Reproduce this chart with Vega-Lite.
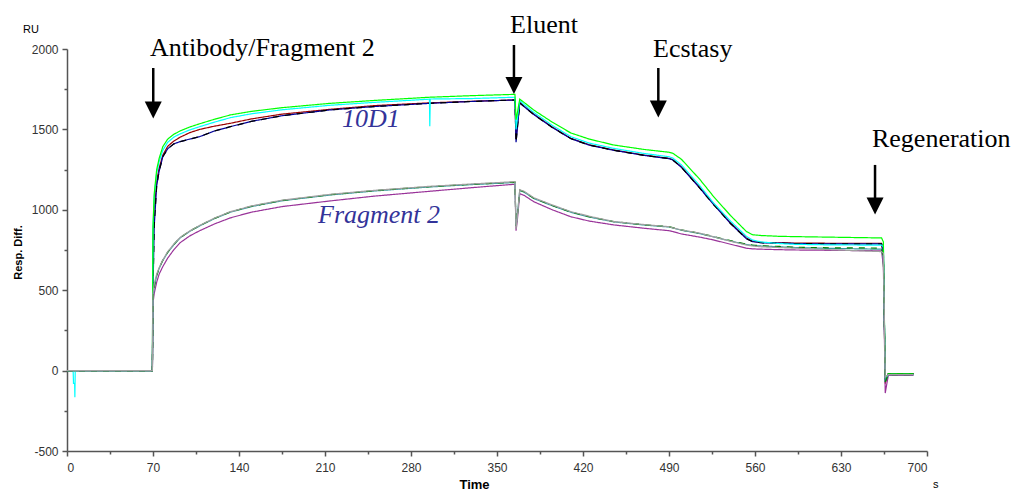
{
  "$schema": "https://vega.github.io/schema/vega-lite/v6.json",
  "width": 860,
  "height": 402,
  "autosize": {"type": "none"},
  "padding": {"left": 67, "top": 49, "right": 85, "bottom": 40},
  "background": "white",
  "config": {
    "view": {"stroke": null},
    "axis": {
      "labelFont": "Liberation Sans",
      "labelFontSize": 12,
      "labelColor": "#333333",
      "domainColor": "#555555",
      "tickColor": "#555555",
      "domainWidth": 1.5,
      "tickWidth": 1.5,
      "grid": false,
      "titleFont": "Liberation Sans",
      "titleColor": "#000000"
    }
  },
  "datasets": {
    "curves": [
      {"s":"r","t":0,"v":0},{"s":"r","t":69.5,"v":0},{"s":"r","t":70,"v":820},{"s":"r","t":71,"v":1000},{"s":"r","t":73,"v":1180},{"s":"r","t":75,"v":1260},{"s":"r","t":78,"v":1340},{"s":"r","t":82,"v":1395},{"s":"r","t":87,"v":1428},{"s":"r","t":92,"v":1451},{"s":"r","t":100,"v":1480},{"s":"r","t":108,"v":1500},{"s":"r","t":120,"v":1520},{"s":"r","t":133,"v":1538},{"s":"r","t":150,"v":1565},{"s":"r","t":175,"v":1595},{"s":"r","t":214,"v":1625},{"s":"r","t":250,"v":1648},{"s":"r","t":295,"v":1665},{"s":"r","t":330,"v":1675},{"s":"r","t":364.6,"v":1683},{"s":"r","t":365.5,"v":1440},{"s":"r","t":366.5,"v":1520},{"s":"r","t":368.5,"v":1668},{"s":"r","t":372,"v":1645},{"s":"r","t":380,"v":1595},{"s":"r","t":395,"v":1515},{"s":"r","t":410,"v":1445},{"s":"r","t":425,"v":1405},{"s":"r","t":445,"v":1372},{"s":"r","t":470,"v":1340},{"s":"r","t":490,"v":1320},{"s":"r","t":493,"v":1312},{"s":"r","t":500,"v":1268},{"s":"r","t":515,"v":1140},{"s":"r","t":526,"v":1040},{"s":"r","t":540,"v":920},{"s":"r","t":553,"v":825},{"s":"r","t":558,"v":805},{"s":"r","t":565,"v":797},{"s":"r","t":580,"v":795},{"s":"r","t":594,"v":793},{"s":"r","t":620,"v":792},{"s":"r","t":663,"v":792},{"s":"r","t":664.5,"v":700},{"s":"r","t":666,"v":-80},{"s":"r","t":668.5,"v":-20},{"s":"r","t":689,"v":-20},
      {"s":"n","t":0,"v":0},{"s":"n","t":69.5,"v":0},{"s":"n","t":70,"v":500},{"s":"n","t":71,"v":900},{"s":"n","t":73,"v":1150},{"s":"n","t":75,"v":1240},{"s":"n","t":78,"v":1330},{"s":"n","t":82,"v":1380},{"s":"n","t":87,"v":1410},{"s":"n","t":92,"v":1424},{"s":"n","t":100,"v":1440},{"s":"n","t":108,"v":1455},{"s":"n","t":120,"v":1490},{"s":"n","t":133,"v":1517},{"s":"n","t":150,"v":1550},{"s":"n","t":175,"v":1585},{"s":"n","t":214,"v":1621},{"s":"n","t":250,"v":1642},{"s":"n","t":295,"v":1662},{"s":"n","t":330,"v":1674},{"s":"n","t":364.6,"v":1683},{"s":"n","t":365.5,"v":1420},{"s":"n","t":366.5,"v":1500},{"s":"n","t":368.5,"v":1665},{"s":"n","t":372,"v":1642},{"s":"n","t":380,"v":1592},{"s":"n","t":395,"v":1512},{"s":"n","t":410,"v":1443},{"s":"n","t":425,"v":1402},{"s":"n","t":445,"v":1370},{"s":"n","t":470,"v":1338},{"s":"n","t":490,"v":1318},{"s":"n","t":493,"v":1310},{"s":"n","t":500,"v":1265},{"s":"n","t":515,"v":1135},{"s":"n","t":526,"v":1035},{"s":"n","t":540,"v":915},{"s":"n","t":553,"v":820},{"s":"n","t":558,"v":802},{"s":"n","t":565,"v":795},{"s":"n","t":580,"v":793},{"s":"n","t":594,"v":790},{"s":"n","t":620,"v":788},{"s":"n","t":663,"v":788},{"s":"n","t":664.5,"v":740},{"s":"n","t":666,"v":-60},{"s":"n","t":668.5,"v":-20},{"s":"n","t":689,"v":-20},
      {"s":"k","t":0,"v":0},{"s":"k","t":69.5,"v":0},{"s":"k","t":70,"v":500},{"s":"k","t":71,"v":900},{"s":"k","t":73,"v":1150},{"s":"k","t":75,"v":1240},{"s":"k","t":78,"v":1330},{"s":"k","t":82,"v":1380},{"s":"k","t":87,"v":1410},{"s":"k","t":92,"v":1424},{"s":"k","t":100,"v":1440},{"s":"k","t":108,"v":1455},{"s":"k","t":120,"v":1490},{"s":"k","t":133,"v":1517},{"s":"k","t":150,"v":1550},{"s":"k","t":175,"v":1585},{"s":"k","t":214,"v":1621},{"s":"k","t":250,"v":1642},{"s":"k","t":295,"v":1662},{"s":"k","t":330,"v":1674},{"s":"k","t":364.6,"v":1683},{"s":"k","t":365.5,"v":1420},{"s":"k","t":366.5,"v":1500},{"s":"k","t":368.5,"v":1665},{"s":"k","t":372,"v":1642},{"s":"k","t":380,"v":1592},{"s":"k","t":395,"v":1512},{"s":"k","t":410,"v":1443},{"s":"k","t":425,"v":1402},{"s":"k","t":445,"v":1370},{"s":"k","t":470,"v":1338},{"s":"k","t":490,"v":1318},{"s":"k","t":493,"v":1310},{"s":"k","t":500,"v":1265},{"s":"k","t":515,"v":1135},{"s":"k","t":526,"v":1035},{"s":"k","t":540,"v":915},{"s":"k","t":553,"v":820},{"s":"k","t":558,"v":802},{"s":"k","t":565,"v":795},{"s":"k","t":580,"v":793},{"s":"k","t":594,"v":790},{"s":"k","t":620,"v":788},{"s":"k","t":663,"v":788},{"s":"k","t":664.5,"v":740},{"s":"k","t":666,"v":-60},{"s":"k","t":668.5,"v":-20},{"s":"k","t":689,"v":-20},
      {"s":"c","t":0,"v":0},{"s":"c","t":5,"v":0},{"s":"c","t":5.3,"v":-80},{"s":"c","t":6.2,"v":-80},{"s":"c","t":6.4,"v":-165},{"s":"c","t":6.7,"v":0},{"s":"c","t":69.5,"v":0},{"s":"c","t":70,"v":880},{"s":"c","t":71,"v":1080},{"s":"c","t":73,"v":1230},{"s":"c","t":75,"v":1300},{"s":"c","t":78,"v":1370},{"s":"c","t":82,"v":1420},{"s":"c","t":87,"v":1452},{"s":"c","t":92,"v":1472},{"s":"c","t":100,"v":1497},{"s":"c","t":108,"v":1517},{"s":"c","t":120,"v":1545},{"s":"c","t":133,"v":1573},{"s":"c","t":150,"v":1597},{"s":"c","t":175,"v":1622},{"s":"c","t":214,"v":1650},{"s":"c","t":250,"v":1668},{"s":"c","t":295,"v":1688},{"s":"c","t":295.3,"v":1520},{"s":"c","t":295.7,"v":1689},{"s":"c","t":330,"v":1692},{"s":"c","t":364.6,"v":1700},{"s":"c","t":365.5,"v":1500},{"s":"c","t":366.5,"v":1560},{"s":"c","t":368.5,"v":1680},{"s":"c","t":372,"v":1655},{"s":"c","t":380,"v":1605},{"s":"c","t":395,"v":1525},{"s":"c","t":410,"v":1455},{"s":"c","t":425,"v":1415},{"s":"c","t":445,"v":1382},{"s":"c","t":470,"v":1350},{"s":"c","t":490,"v":1330},{"s":"c","t":493,"v":1322},{"s":"c","t":500,"v":1280},{"s":"c","t":515,"v":1150},{"s":"c","t":526,"v":1045},{"s":"c","t":540,"v":930},{"s":"c","t":553,"v":835},{"s":"c","t":558,"v":812},{"s":"c","t":565,"v":800},{"s":"c","t":580,"v":790},{"s":"c","t":594,"v":785},{"s":"c","t":620,"v":782},{"s":"c","t":663,"v":780},{"s":"c","t":664.5,"v":770},{"s":"c","t":666,"v":-60},{"s":"c","t":668.5,"v":-25},{"s":"c","t":689,"v":-25},
      {"s":"g","t":0,"v":0},{"s":"g","t":69.5,"v":0},{"s":"g","t":70,"v":900},{"s":"g","t":71,"v":1100},{"s":"g","t":73,"v":1250},{"s":"g","t":75,"v":1320},{"s":"g","t":78,"v":1393},{"s":"g","t":82,"v":1440},{"s":"g","t":87,"v":1470},{"s":"g","t":92,"v":1490},{"s":"g","t":100,"v":1515},{"s":"g","t":108,"v":1535},{"s":"g","t":120,"v":1563},{"s":"g","t":133,"v":1590},{"s":"g","t":150,"v":1612},{"s":"g","t":175,"v":1635},{"s":"g","t":214,"v":1662},{"s":"g","t":250,"v":1680},{"s":"g","t":295,"v":1700},{"s":"g","t":330,"v":1710},{"s":"g","t":364.6,"v":1718},{"s":"g","t":365.5,"v":1560},{"s":"g","t":366.5,"v":1600},{"s":"g","t":368.5,"v":1688},{"s":"g","t":372,"v":1668},{"s":"g","t":380,"v":1620},{"s":"g","t":395,"v":1545},{"s":"g","t":410,"v":1478},{"s":"g","t":425,"v":1440},{"s":"g","t":445,"v":1403},{"s":"g","t":470,"v":1375},{"s":"g","t":490,"v":1358},{"s":"g","t":493,"v":1352},{"s":"g","t":500,"v":1315},{"s":"g","t":515,"v":1190},{"s":"g","t":526,"v":1085},{"s":"g","t":540,"v":965},{"s":"g","t":553,"v":865},{"s":"g","t":558,"v":845},{"s":"g","t":565,"v":840},{"s":"g","t":580,"v":835},{"s":"g","t":594,"v":833},{"s":"g","t":620,"v":830},{"s":"g","t":663,"v":825},{"s":"g","t":664.5,"v":800},{"s":"g","t":666,"v":-50},{"s":"g","t":668.5,"v":-20},{"s":"g","t":689,"v":-20},
      {"s":"p","t":0,"v":0},{"s":"p","t":69.5,"v":0},{"s":"p","t":70,"v":420},{"s":"p","t":71,"v":480},{"s":"p","t":73,"v":550},{"s":"p","t":75,"v":600},{"s":"p","t":78,"v":647},{"s":"p","t":82,"v":700},{"s":"p","t":87,"v":752},{"s":"p","t":92,"v":795},{"s":"p","t":100,"v":838},{"s":"p","t":108,"v":870},{"s":"p","t":120,"v":912},{"s":"p","t":133,"v":950},{"s":"p","t":150,"v":985},{"s":"p","t":175,"v":1020},{"s":"p","t":214,"v":1055},{"s":"p","t":250,"v":1085},{"s":"p","t":295,"v":1115},{"s":"p","t":330,"v":1138},{"s":"p","t":364.6,"v":1159},{"s":"p","t":365.5,"v":870},{"s":"p","t":366.5,"v":930},{"s":"p","t":368.5,"v":1100},{"s":"p","t":372,"v":1090},{"s":"p","t":380,"v":1050},{"s":"p","t":395,"v":1000},{"s":"p","t":410,"v":957},{"s":"p","t":425,"v":930},{"s":"p","t":445,"v":906},{"s":"p","t":470,"v":885},{"s":"p","t":490,"v":870},{"s":"p","t":493,"v":865},{"s":"p","t":500,"v":850},{"s":"p","t":515,"v":830},{"s":"p","t":526,"v":813},{"s":"p","t":540,"v":786},{"s":"p","t":553,"v":761},{"s":"p","t":558,"v":757},{"s":"p","t":565,"v":755},{"s":"p","t":580,"v":752},{"s":"p","t":594,"v":750},{"s":"p","t":620,"v":748},{"s":"p","t":663,"v":745},{"s":"p","t":664.5,"v":650},{"s":"p","t":666,"v":-140},{"s":"p","t":668.5,"v":-30},{"s":"p","t":689,"v":-30},
      {"s":"t","t":0,"v":0},{"s":"t","t":69.5,"v":0},{"s":"t","t":70,"v":450},{"s":"t","t":71,"v":520},{"s":"t","t":73,"v":590},{"s":"t","t":75,"v":635},{"s":"t","t":78,"v":685},{"s":"t","t":82,"v":735},{"s":"t","t":87,"v":783},{"s":"t","t":92,"v":825},{"s":"t","t":100,"v":866},{"s":"t","t":108,"v":900},{"s":"t","t":120,"v":945},{"s":"t","t":133,"v":985},{"s":"t","t":150,"v":1020},{"s":"t","t":175,"v":1056},{"s":"t","t":214,"v":1092},{"s":"t","t":250,"v":1117},{"s":"t","t":295,"v":1142},{"s":"t","t":330,"v":1157},{"s":"t","t":364.6,"v":1170},{"s":"t","t":365.5,"v":900},{"s":"t","t":366.5,"v":960},{"s":"t","t":368.5,"v":1120},{"s":"t","t":372,"v":1110},{"s":"t","t":380,"v":1070},{"s":"t","t":395,"v":1025},{"s":"t","t":410,"v":985},{"s":"t","t":425,"v":955},{"s":"t","t":445,"v":925},{"s":"t","t":470,"v":905},{"s":"t","t":490,"v":893},{"s":"t","t":493,"v":887},{"s":"t","t":500,"v":873},{"s":"t","t":515,"v":852},{"s":"t","t":526,"v":832},{"s":"t","t":540,"v":806},{"s":"t","t":553,"v":784},{"s":"t","t":558,"v":779},{"s":"t","t":565,"v":775},{"s":"t","t":580,"v":770},{"s":"t","t":594,"v":765},{"s":"t","t":620,"v":760},{"s":"t","t":663,"v":755},{"s":"t","t":664.5,"v":700},{"s":"t","t":666,"v":-70},{"s":"t","t":668.5,"v":-25},{"s":"t","t":689,"v":-25},
      {"s":"dg","t":0,"v":0},{"s":"dg","t":69.5,"v":0},{"s":"dg","t":70,"v":450},{"s":"dg","t":71,"v":520},{"s":"dg","t":73,"v":592},{"s":"dg","t":75,"v":637},{"s":"dg","t":78,"v":687},{"s":"dg","t":82,"v":737},{"s":"dg","t":87,"v":785},{"s":"dg","t":92,"v":827},{"s":"dg","t":100,"v":868},{"s":"dg","t":108,"v":902},{"s":"dg","t":120,"v":947},{"s":"dg","t":133,"v":987},{"s":"dg","t":150,"v":1022},{"s":"dg","t":175,"v":1058},{"s":"dg","t":214,"v":1094},{"s":"dg","t":250,"v":1119},{"s":"dg","t":295,"v":1144},{"s":"dg","t":330,"v":1159},{"s":"dg","t":364.6,"v":1172},{"s":"dg","t":365.5,"v":900},{"s":"dg","t":366.5,"v":962},{"s":"dg","t":368.5,"v":1122},{"s":"dg","t":372,"v":1112},{"s":"dg","t":380,"v":1072},{"s":"dg","t":395,"v":1027},{"s":"dg","t":410,"v":987},{"s":"dg","t":425,"v":957},{"s":"dg","t":445,"v":927},{"s":"dg","t":470,"v":907},{"s":"dg","t":490,"v":895},{"s":"dg","t":493,"v":889},{"s":"dg","t":500,"v":875},{"s":"dg","t":515,"v":854},{"s":"dg","t":526,"v":834},{"s":"dg","t":540,"v":808},{"s":"dg","t":553,"v":786},{"s":"dg","t":558,"v":781},{"s":"dg","t":565,"v":777},{"s":"dg","t":580,"v":772},{"s":"dg","t":594,"v":767},{"s":"dg","t":620,"v":764},{"s":"dg","t":663,"v":762},{"s":"dg","t":664.5,"v":700},{"s":"dg","t":666,"v":-70},{"s":"dg","t":668.5,"v":-25},{"s":"dg","t":689,"v":-25},
      {"s":"y","t":0,"v":0},{"s":"y","t":69.5,"v":0},{"s":"y","t":70,"v":480},{"s":"y","t":71,"v":540},{"s":"y","t":73,"v":600},{"s":"y","t":75,"v":640},{"s":"y","t":78,"v":688},{"s":"y","t":82,"v":740},{"s":"y","t":87,"v":787},{"s":"y","t":92,"v":828},{"s":"y","t":100,"v":869},{"s":"y","t":108,"v":903},{"s":"y","t":120,"v":948},{"s":"y","t":133,"v":988},{"s":"y","t":150,"v":1024},{"s":"y","t":175,"v":1060},{"s":"y","t":214,"v":1096},{"s":"y","t":250,"v":1121},{"s":"y","t":295,"v":1146},{"s":"y","t":330,"v":1161},{"s":"y","t":364.6,"v":1175},{"s":"y","t":365.5,"v":880},{"s":"y","t":366.5,"v":950},{"s":"y","t":368.5,"v":1125},{"s":"y","t":372,"v":1115},{"s":"y","t":380,"v":1075},{"s":"y","t":395,"v":1030},{"s":"y","t":410,"v":989},{"s":"y","t":425,"v":960},{"s":"y","t":445,"v":927},{"s":"y","t":470,"v":908},{"s":"y","t":490,"v":895},{"s":"y","t":493,"v":888},{"s":"y","t":500,"v":875},{"s":"y","t":515,"v":855},{"s":"y","t":526,"v":833},{"s":"y","t":540,"v":805},{"s":"y","t":553,"v":781},{"s":"y","t":558,"v":775},{"s":"y","t":565,"v":770},{"s":"y","t":580,"v":765},{"s":"y","t":594,"v":761},{"s":"y","t":620,"v":752},{"s":"y","t":663,"v":740},{"s":"y","t":664.5,"v":730},{"s":"y","t":666,"v":-40},{"s":"y","t":668.5,"v":-25},{"s":"y","t":689,"v":-25}
    ],
    "arrows": [
      {"x": 70.2, "top": 1882, "head": 1621},
      {"x": 363.8, "top": 2025, "head": 1773},
      {"x": 481.3, "top": 1882, "head": 1627},
      {"x": 657.7, "top": 1279, "head": 1024}
    ],
    "labels": [
      {"text": "Antibody/Fragment 2", "x": 67.6, "y": 1956},
      {"text": "Eluent", "x": 360.6, "y": 2099},
      {"text": "Ecstasy", "x": 477, "y": 1950},
      {"text": "Regeneration", "x": 655.2, "y": 1391}
    ],
    "groups": [
      {"text": "10D1", "x": 223.8, "y": 1515},
      {"text": "Fragment 2", "x": 204.3, "y": 918}
    ],
    "units": [
      {"text": "RU", "x": -35.8, "y": 2098},
      {"text": "s", "x": 704.9, "y": -727}
    ]
  },
  "resolve": {"axis": {"x": "independent", "y": "independent"}},
  "layer": [
    {
      "data": {"name": "curves"},
      "mark": {"type": "line", "strokeWidth": 1.2, "clip": false},
      "encoding": {
        "x": {
          "field": "t", "type": "quantitative",
          "scale": {"domain": [0, 700], "nice": false, "zero": false},
          "axis": {
            "orient": "bottom",
            "values": [0, 70, 140, 210, 280, 350, 420, 490, 560, 630, 700],
            "labelExpr": "'' + datum.value",
            "tickSize": 5, "labelPadding": 6,
            "title": "Time", "titleFontSize": 13, "titleFontWeight": "bold",
            "titleX": 407, "titleY": 37, "titleAlign": "center", "titleBaseline": "alphabetic"
          }
        },
        "y": {
          "field": "v", "type": "quantitative",
          "scale": {"domain": [-500, 2000], "nice": false, "zero": false},
          "axis": {
            "orient": "left",
            "values": [-500, 0, 500, 1000, 1500, 2000],
            "labelExpr": "'' + datum.value",
            "tickSize": 5, "labelPadding": 4,
            "title": "Resp. Diff.", "titleFontSize": 11, "titleFontWeight": "bold",
            "titleX": -49, "titleY": 203, "titleAngle": 270, "titleAlign": "center", "titleBaseline": "middle"
          }
        },
        "color": {
          "field": "s", "type": "nominal", "legend": null,
          "scale": {
            "domain": ["r", "n", "k", "c", "g", "p", "t", "dg", "y"],
            "range": ["#990000", "#000099", "#000000", "#00ffff", "#00ff00", "#993399", "#339999", "#008000", "#a0a0a0"]
          }
        },
        "strokeDash": {
          "field": "s", "type": "nominal", "legend": null,
          "scale": {
            "domain": ["r", "n", "k", "c", "g", "p", "t", "dg", "y"],
            "range": [[1, 0], [1, 0], [6, 6], [1, 0], [1, 0], [1, 0], [1, 0], [6, 6], [1, 0]]
          }
        }
      }
    },
    {
      "data": {"name": "arrows"},
      "mark": {"type": "rule", "color": "#000000", "strokeWidth": 2.5, "clip": false},
      "encoding": {
        "x": {
          "field": "x", "type": "quantitative",
          "axis": {
            "orient": "bottom",
            "values": [35, 105, 175, 245, 315, 385, 455, 525, 595, 665],
            "tickSize": 3, "labels": false, "domain": false, "title": null
          }
        },
        "y": {
          "field": "top", "type": "quantitative",
          "axis": {
            "orient": "left",
            "values": [-250, 250, 750, 1250, 1750],
            "tickSize": 3, "labels": false, "domain": false, "title": null
          }
        },
        "y2": {"field": "head"}
      }
    },
    {
      "data": {"name": "arrows"},
      "mark": {"type": "point", "shape": "M-1,-1L1,-1L0,1Z", "size": 289, "filled": true, "color": "#000000", "opacity": 1, "strokeWidth": 0, "clip": false},
      "encoding": {
        "x": {"field": "x", "type": "quantitative", "axis": null},
        "y": {"field": "head", "type": "quantitative", "axis": null}
      }
    },
    {
      "data": {"name": "labels"},
      "mark": {"type": "text", "font": "Liberation Serif", "fontSize": 26, "color": "#000000", "align": "left", "baseline": "alphabetic", "clip": false},
      "encoding": {
        "x": {"field": "x", "type": "quantitative", "axis": null},
        "y": {"field": "y", "type": "quantitative", "axis": null},
        "text": {"field": "text"}
      }
    },
    {
      "data": {"name": "groups"},
      "mark": {"type": "text", "font": "Liberation Serif", "fontSize": 26, "fontStyle": "italic", "color": "#333399", "align": "left", "baseline": "alphabetic", "clip": false},
      "encoding": {
        "x": {"field": "x", "type": "quantitative", "axis": null},
        "y": {"field": "y", "type": "quantitative", "axis": null},
        "text": {"field": "text"}
      }
    },
    {
      "data": {"name": "units"},
      "mark": {"type": "text", "font": "Liberation Sans", "fontSize": 11, "color": "#000000", "align": "left", "baseline": "alphabetic", "clip": false},
      "encoding": {
        "x": {"field": "x", "type": "quantitative", "axis": null},
        "y": {"field": "y", "type": "quantitative", "axis": null},
        "text": {"field": "text"}
      }
    }
  ]
}
